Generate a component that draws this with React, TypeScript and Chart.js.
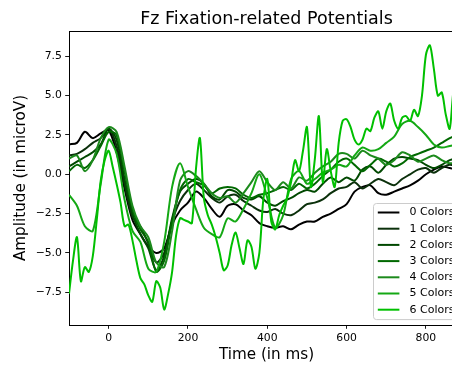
import { useEffect, useRef } from "react";
import { Chart, registerables } from "chart.js";

Chart.register(...registerables);

const FONT = "'DejaVu Sans', sans-serif";

// Sample times (ms) for the averaged waveforms
const times20 = Array.from({ length: 51 }, (_, i) => -100 + i * 20);
const times10 = Array.from({ length: 101 }, (_, i) => -100 + i * 10);

const seriesNames = ["0 Colors", "1 Colors", "2 Colors", "3 Colors", "4 Colors", "5 Colors", "6 Colors"];
const seriesColors = ["#000000", "#0b300b", "#004800", "#006800", "#1c8a1c", "#14a814", "#00c000"];

const xTickValues = [0, 200, 400, 600, 800];
const yTickValues = [-7.5, -5, -2.5, 0, 2.5, 5, 7.5];

const colors0 = [
  1.9, 2.0, 2.7, 2.3, 2.6,
  2.8, 1.4, -0.9, -2.9, -3.8, -4.6, -5.0, -4.7, -3.2, -2.3,
  -1.8, -1.1, -1.5, -2.2, -2.7, -2.0, -1.9, -2.3, -2.6, -3.1,
  -3.3, -3.4, -3.3, -3.5, -3.2, -3.0, -3.0, -2.7, -2.5, -2.2,
  -1.9, -1.1, -0.8, -0.7, -1.2, -1.3, -1.1, -0.9, -0.7, -0.4,
  0.0, 0.3, 0.5, 0.4, 0.3, 0.4,
];
const colors1 = [
  1.2, 1.3, 1.6, 2.0, 2.3,
  2.9, 1.8, -0.6, -2.7, -3.3, -4.4, -5.6, -5.0, -3.0, -1.7,
  -1.0, -0.6, -1.0, -1.5, -1.8, -1.4, -1.3, -1.7, -2.0, -2.3,
  -2.4, -2.2, -2.5, -2.6, -2.3, -1.9, -1.8, -1.6, -1.2, -0.9,
  -0.8, -0.5, -0.9, -0.6, -0.3, -0.5, -0.7, -0.3, 0.0, 0.3,
  0.4, 0.1, 0.4, 0.6, 0.5, 0.6,
];
const colors2 = [
  0.5, 0.8, 1.1, 1.4, 1.9,
  2.9, 2.2, -0.3, -2.5, -3.8, -4.7, -6.1, -5.2, -2.8, -1.1,
  -0.6, -0.3, -0.6, -1.4, -1.6, -1.0, -1.1, -1.5, -1.6, -1.4,
  -1.8, -2.0, -1.7, -1.5, -1.2, -1.0, -1.1, -0.6, -0.2, -0.5,
  -0.2, -0.4, 0.3, 0.5, 0.1, 0.6, 1.0, 1.1, 1.0, 0.9,
  0.6, 0.4, 0.6, 0.9, 1.0, 1.1,
];
const colors3 = [
  0.2, 0.6, 0.4, 0.9, 1.8,
  2.7, 2.5, 0.2, -2.2, -3.5, -4.3, -6.2, -5.5, -3.0, -1.0,
  -0.3, -0.5, -0.7, -1.2, -0.9, -0.8, -0.9, -1.3, -1.5, -1.3,
  -1.2, -1.0, -0.8, -1.0, -0.6, -0.9, -0.6, -0.1, 0.3, 0.8,
  1.0, 0.6, 0.2, 0.6, 1.0, 0.8, 0.5, 0.7, 1.1, 1.3,
  1.5, 1.7, 2.0, 2.3, 2.5, 2.6,
];
const colors4 = [
  1.0, 1.2, 0.2, 0.9, 2.3,
  3.0, 2.7, 0.5, -2.0, -3.3, -4.0, -5.6, -5.9, -3.6, -0.4,
  0.2, -0.1, -0.6, -1.2, -1.5, -1.4, -1.8, -1.2, -0.5, 0.2,
  -0.5, -1.0, -0.5, -0.9, -0.2, -0.4, 0.1, 0.5, 0.8, 1.3,
  1.3, 1.0, 1.5, 1.2, 1.0, 0.6, 0.9, 1.4, 1.2, 0.8,
  1.0, 1.2, 0.9, 0.7, 0.8, 0.9,
];
const colors5 = [
  -1.3, -2.0, -3.3, -3.6, -0.6,
  2.2, 1.3, -1.6, -3.6, -4.3, -6.0, -6.2, -4.3, -0.8, 0.7,
  -0.8, -2.2, -3.4, -3.8, -4.0, -2.8, -3.0, -2.2, -1.2, 0.0,
  -1.5, -3.4, -2.6, -0.3, 0.2, -0.6, -0.3, 0.1, 0.3, 0.6,
  0.5, 1.2, 1.7, 1.5, 1.6, 2.0, 2.4, 3.2, 3.4, 3.0,
  2.5, 1.9, 1.7, 1.8, 1.9, 2.0,
];
const colors6 = [
  -7.6, -5.5, -4.0, -6.8, -5.9, -6.2, -5.2, -2.9, -0.4, 0.9,
  1.5, 0.5, -0.6, -1.8, -3.3, -3.2, -4.2, -5.5, -6.6, -7.0,
  -7.7, -8.1, -6.8, -7.2, -8.6, -7.6, -6.2, -3.9, -2.8, -2.9,
  -3.0, -3.1, 0.3, 2.3, -1.5, -2.6, -3.2, -4.0, -5.0, -6.1,
  -5.8, -4.5, -3.7, -4.7, -5.7, -4.2, -4.6, -6.0, -5.0, -1.6,
  -0.3, -3.0, -3.5, -2.6, -2.0, -1.5, -0.5, 0.9, 0.2, 1.5,
  3.0, -0.8, 1.0, 3.7, -0.5, 1.6, 0.2, -0.8, 2.0, 3.4,
  3.5, 3.0, 2.2, 1.9, 2.2, 2.9, 2.75, 3.6, 4.0, 2.9,
  4.0, 4.5, 3.4, 2.9, 3.6, 3.7, 3.4, 4.1, 3.7, 5.0,
  7.6, 8.2, 6.7, 5.0, 5.2, 3.8, 2.9, 5.4, 6.0, 5.2, 4.6,
];

const seriesValues = [colors0, colors1, colors2, colors3, colors4, colors5, colors6];
const seriesTimes = [times20, times20, times20, times20, times20, times20, times10];

const fmtTick = (v: number) => {
  const s = Math.abs(v).toFixed(1);
  return v < 0 ? "\u2212" + s : s;
};

const framePlugin = {
  id: "frameAndLegend",
  afterDraw(chart: any) {
    const { ctx, chartArea } = chart;
    ctx.save();
    // top and right spines
    ctx.strokeStyle = "#000";
    ctx.lineWidth = 1;
    ctx.beginPath();
    ctx.moveTo(chartArea.left, chartArea.top + 0.5);
    ctx.lineTo(chartArea.right, chartArea.top + 0.5);
    ctx.lineTo(chartArea.right - 0.5, chartArea.bottom);
    ctx.stroke();

    // legend box in the lower right corner of the axes
    const fs = 11;
    const rowH = 16.2;
    const boxRight = chartArea.right - 5.4;
    const boxBottom = chartArea.bottom - 5.4;
    const boxLeft = 373.5;
    const boxTop = 203.5;
    ctx.beginPath();
    ctx.roundRect(boxLeft, boxTop, boxRight - boxLeft, boxBottom - boxTop, 3);
    ctx.fillStyle = "rgba(255,255,255,0.8)";
    ctx.fill();
    ctx.strokeStyle = "#cccccc";
    ctx.lineWidth = 1;
    ctx.stroke();

    ctx.font = `${fs}px ${FONT}`;
    ctx.textBaseline = "middle";
    ctx.textAlign = "left";
    seriesNames.forEach((name, i) => {
      const y = boxTop + 9 + i * rowH;
      ctx.strokeStyle = seriesColors[i];
      ctx.lineWidth = 2;
      ctx.beginPath();
      ctx.moveTo(boxLeft + 4.3, y);
      ctx.lineTo(boxLeft + 4.3 + 21.6, y);
      ctx.stroke();
      ctx.fillStyle = "#000";
      ctx.fillText(name, boxLeft + 36, y);
    });
    ctx.restore();
  },
};

export default function App() {
  const ref = useRef<HTMLCanvasElement>(null);

  useEffect(() => {
    const chart = new Chart(ref.current as HTMLCanvasElement, {
      type: "line",
      data: {
        datasets: seriesNames.map((name, i) => ({
          label: name,
          data: seriesTimes[i].map((t, j) => ({ x: t, y: seriesValues[i][j] })),
          borderColor: seriesColors[i],
          backgroundColor: seriesColors[i],
          borderWidth: 2,
          pointRadius: 0,
          tension: 0.3,
          fill: false,
          order: seriesNames.length - 1 - i,
        })),
      },
      options: {
        responsive: false,
        animation: false,
        devicePixelRatio: 1,
        layout: { padding: { left: 0, right: 16, top: 0, bottom: 0 } },
        plugins: {
          legend: { display: false },
          tooltip: { enabled: false },
          title: {
            display: true,
            text: "Fz Fixation-related Potentials",
            fullSize: false,
            color: "#000",
            font: { family: FONT, size: 17.5, weight: "normal" },
            padding: { top: 8.5, bottom: 1.5 },
          },
        },
        scales: {
          x: {
            type: "linear",
            min: -100,
            max: 896,
            afterBuildTicks: (s: any) => {
              s.ticks = xTickValues.map((v) => ({ value: v }));
            },
            afterFit: (s: any) => {
              s.height = 42;
            },
            grid: { drawOnChartArea: false, drawTicks: true, tickLength: 3.8, tickColor: "#000", tickWidth: 0.9 },
            border: { display: true, color: "#000", width: 1 },
            ticks: {
              color: "#000",
              font: { family: FONT, size: 10.8 },
              padding: 3.3,
              maxRotation: 0,
              autoSkip: false,
              callback: (v: any) => String(v),
            },
            title: {
              display: true,
              text: "Time (in ms)",
              color: "#000",
              font: { family: FONT, size: 15.2 },
              padding: { top: 0, bottom: 2.7 },
            },
          },
          y: {
            type: "linear",
            min: -9.58,
            max: 9.11,
            afterBuildTicks: (s: any) => {
              s.ticks = yTickValues.map((v) => ({ value: v }));
            },
            afterFit: (s: any) => {
              s.width = 69;
            },
            grid: { drawOnChartArea: false, drawTicks: true, tickLength: 3.8, tickColor: "#000", tickWidth: 0.9 },
            border: { display: true, color: "#000", width: 1 },
            ticks: {
              color: "#000",
              font: { family: FONT, size: 10.8 },
              padding: 3.3,
              autoSkip: false,
              callback: (v: any) => fmtTick(Number(v)),
            },
            title: {
              display: true,
              text: "Amplitude (in microV)",
              color: "#000",
              font: { family: FONT, size: 15.2 },
              padding: { top: 12.2, bottom: 0 },
            },
          },
        },
      },
      plugins: [framePlugin],
    } as any);
    return () => chart.destroy();
  }, []);

  return (
    <div
      style={{
        position: "fixed",
        left: 0,
        top: 0,
        width: 452,
        height: 367,
        overflow: "hidden",
        background: "#fff",
      }}
    >
      <canvas ref={ref} width={480} height={367} style={{ display: "block", width: 480, height: 367 }} />
    </div>
  );
}
